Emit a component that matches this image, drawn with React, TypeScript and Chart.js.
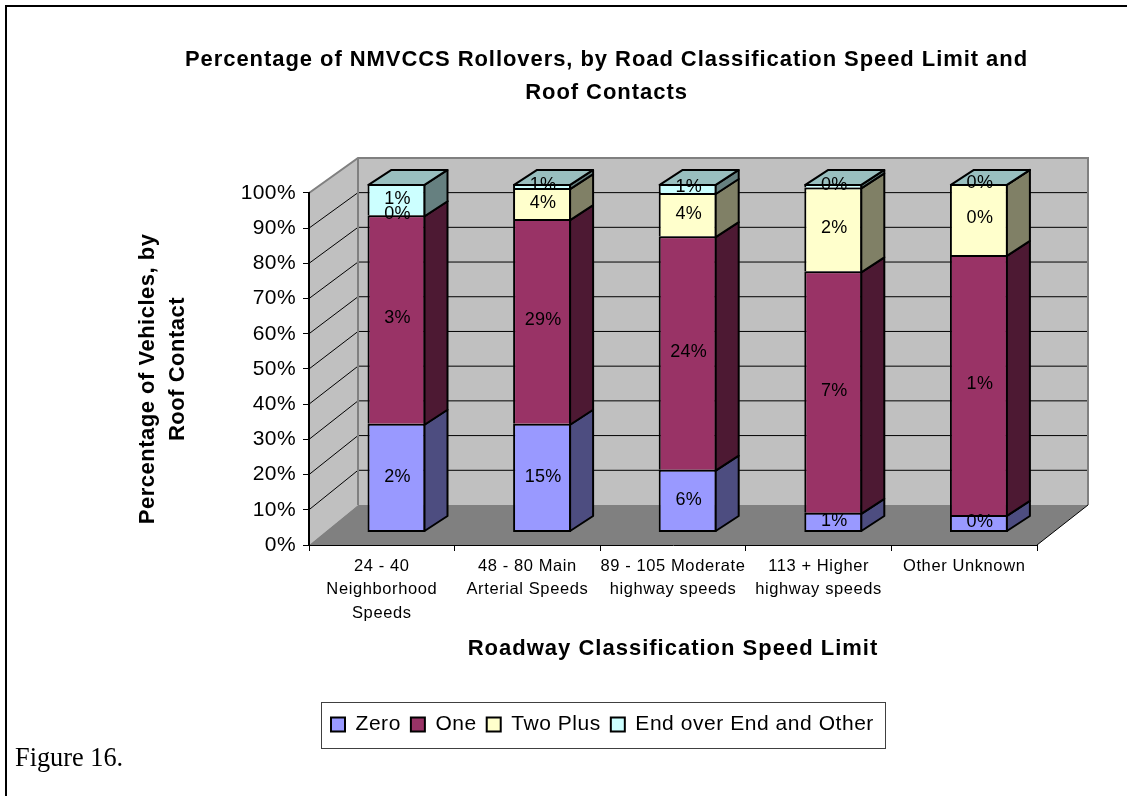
import React, { useEffect, useRef } from "react";
import { Chart, registerables } from "chart.js";

Chart.register(...registerables);

const categories = [
  ["24 - 40", "Neighborhood", "Speeds"],
  ["48 - 80 Main", "Arterial Speeds"],
  ["89 - 105 Moderate", "highway speeds"],
  ["113 + Higher", "highway speeds"],
  ["Other Unknown"],
];
const seriesNames = ["Zero", "One", "Two Plus", "End over End and Other"];
const zeroShare = [31.1, 31.1, 17.9, 5.5, 4.9];
const oneShare = [59.9, 58.8, 67.1, 69.4, 74.7];
const twoPlusShare = [0, 8.9, 12.4, 24.1, 20.4];
const endOverShare = [9, 1.2, 2.6, 1, 0];
const zeroLabels = ["2%", "15%", "6%", "1%", "0%"];
const oneLabels = ["3%", "29%", "24%", "7%", "1%"];
const twoPlusLabels = ["0%", "4%", "4%", "2%", "0%"];
const endOverLabels = ["1%", "1%", "1%", "0%", "0%"];

const W = 1127;
const H = 796;
const FONT = '"Liberation Sans", Arial, sans-serif';
const fronts = ["#9999FF", "#993366", "#FFFFCC", "#CCFFFF"];
const sides = ["#4D4D80", "#4D1933", "#808066", "#668080"];
const TOP_FACE = "#99BFBF";
const labelSets = [zeroLabels, oneLabels, twoPlusLabels, endOverLabels];

const BAR_SHIFT = 14.7;
const BAR_DX = 23;
const BAR_DY = -15;
const WALL_DX = 49;

const poly = (ctx: CanvasRenderingContext2D, pts: number[][], fill?: string, stroke?: string, lw = 1) => {
  ctx.beginPath();
  pts.forEach((p, i) => (i ? ctx.lineTo(p[0], p[1]) : ctx.moveTo(p[0], p[1])));
  ctx.closePath();
  if (fill) {
    ctx.fillStyle = fill;
    ctx.fill();
  }
  if (stroke) {
    ctx.strokeStyle = stroke;
    ctx.lineWidth = lw;
    ctx.lineJoin = "round";
    ctx.stroke();
  }
};

// Runs one of the library's text-drawing methods with a canvas letter spacing.
const spaced = (obj: any, method: string, px: number) => {
  const flag = `__spaced_${method}`;
  if (obj[flag]) return;
  obj[flag] = true;
  const orig = obj[method];
  obj[method] = function (...args: any[]) {
    const ctx = this.ctx;
    const prev = ctx.letterSpacing;
    ctx.letterSpacing = `${px}px`;
    const r = orig.apply(this, args);
    ctx.letterSpacing = prev;
    return r;
  };
};

const wallsPlugin = {
  id: "walls",
  beforeLayout(chart: any) {
    spaced(chart.legend, "fit", 0.55);
    spaced(chart.legend, "draw", 0.55);
    spaced(chart.titleBlock, "draw", 0.95);
  },
  afterLayout(chart: any) {
    const t = chart.titleBlock;
    t.left = 185;
    t.right = 1028;
    const l = chart.legend;
    const w = l.width;
    l.left = 321;
    l.right = 321 + w;
    l.top = 704;
    l.bottom = l.top + l.height;
    spaced(chart.scales.x, "drawLabels", 0.6);
    spaced(chart.scales.x, "drawTitle", 1);
    spaced(chart.scales.y, "drawTitle", 0.5);
    spaced(chart.scales.y, "drawLabels", 0.4);
  },
  beforeDraw(chart: any) {
    const ctx: CanvasRenderingContext2D = chart.ctx;
    const { x, y, yBack } = chart.scales;
    const x0 = x.left;
    const x1 = x.right;
    const front0 = y.getPixelForValue(0);
    const front100 = y.getPixelForValue(100);
    const back0 = yBack.getPixelForValue(0);
    const back100 = yBack.getPixelForValue(100);
    ctx.save();
    ctx.fillStyle = "#FFFFFF";
    ctx.fillRect(0, 0, W, H);
    // page frame
    ctx.strokeStyle = "#000000";
    ctx.lineWidth = 2;
    ctx.beginPath();
    ctx.moveTo(6, H);
    ctx.lineTo(6, 6);
    ctx.lineTo(W, 6);
    ctx.stroke();
    // walls
    poly(ctx, [[x0, front100], [x0 + WALL_DX, back100], [x0 + WALL_DX, back0], [x0, front0]], "#C0C0C0");
    poly(ctx, [[x0 + WALL_DX, back100], [x1 + WALL_DX + 2, back100], [x1 + WALL_DX + 2, back0], [x0 + WALL_DX, back0]], "#C0C0C0");
    poly(ctx, [[x0, front0], [x0 + WALL_DX, back0], [x1 + WALL_DX + 2, back0], [x1, front0]], "#808080");
    // grid
    ctx.strokeStyle = "#000000";
    ctx.lineWidth = 1;
    for (let v = 10; v <= 90; v += 10) {
      const fy = y.getPixelForValue(v);
      const by = yBack.getPixelForValue(v);
      ctx.beginPath();
      ctx.moveTo(x0, fy);
      ctx.lineTo(x0 + WALL_DX, by);
      ctx.lineTo(x1 + WALL_DX + 2, by);
      ctx.stroke();
    }
    // wall outlines
    ctx.strokeStyle = "#808080";
    ctx.lineWidth = 2;
    ctx.beginPath();
    ctx.moveTo(x0, front100);
    ctx.lineTo(x0 + WALL_DX, back100);
    ctx.lineTo(x1 + WALL_DX + 2, back100);
    ctx.lineTo(x1 + WALL_DX + 2, back0);
    ctx.moveTo(x0 + WALL_DX, back100);
    ctx.lineTo(x0 + WALL_DX, back0);
    ctx.stroke();
    ctx.strokeStyle = "#000000";
    ctx.lineWidth = 1;
    ctx.beginPath();
    ctx.moveTo(x1, front0);
    ctx.lineTo(x1 + WALL_DX + 2, back0);
    ctx.stroke();
    // legend frame
    ctx.strokeStyle = "#404040";
    ctx.lineWidth = 1;
    ctx.strokeRect(321.5, 702.5, 564, 46);
    // caption
    ctx.fillStyle = "#000000";
    ctx.font = '26.3px "Liberation Serif", serif';
    ctx.textAlign = "left";
    ctx.textBaseline = "alphabetic";
    ctx.fillText("Figure 16.", 15, 766);
    ctx.restore();
  },
  beforeDatasetsDraw(chart: any) {
    chart.ctx.save();
    chart.ctx.translate(BAR_SHIFT, 0);
  },
  afterDatasetsDraw(chart: any) {
    const ctx: CanvasRenderingContext2D = chart.ctx;
    const n = chart.data.datasets.length;
    for (let d = 0; d < n; d++) {
      const els = chart.getDatasetMeta(d).data;
      els.forEach((el: any) => {
        const right = el.x + el.width / 2 - 1;
        const top = el.y + 1;
        const bottom = d === 0 ? el.base - 1 : el.base + 1;
        poly(
          ctx,
          [[right, bottom], [right + BAR_DX, bottom + BAR_DY], [right + BAR_DX, top + BAR_DY], [right, top]],
          sides[d],
          "#000000",
          2
        );
      });
    }
    chart.getDatasetMeta(n - 1).data.forEach((el: any) => {
      const l = el.x - el.width / 2 + 1;
      const r = el.x + el.width / 2 - 1;
      const top = el.y + 1;
      poly(ctx, [[l, top], [r, top], [r + BAR_DX, top + BAR_DY], [l + BAR_DX, top + BAR_DY]], TOP_FACE, "#000000", 2);
    });
    // value labels
    ctx.fillStyle = "#000000";
    ctx.font = `18px ${FONT}`;
    (ctx as any).letterSpacing = "0.3px";
    ctx.textAlign = "center";
    ctx.textBaseline = "middle";
    for (let d = 0; d < n; d++) {
      chart.getDatasetMeta(d).data.forEach((el: any, i: number) => {
        ctx.fillText(labelSets[d][i], el.x + 1, (el.y + el.base) / 2 - 1);
      });
    }
    (ctx as any).letterSpacing = "0px";
    ctx.restore();
  },
};

export default function App() {
  const ref = useRef<HTMLCanvasElement>(null);
  useEffect(() => {
    document.body.style.margin = "0";
    const series = [zeroShare, oneShare, twoPlusShare, endOverShare];
    const chart = new Chart(ref.current!, {
      type: "bar",
      data: {
        labels: categories,
        datasets: series.map((s, i) => ({
          label: seriesNames[i],
          data: s,
          backgroundColor: fronts[i],
          borderColor: "#000000",
          borderWidth: 2,
          borderSkipped: i === 0 ? false : "bottom",
          xAxisID: "x",
          yAxisID: "yBar",
          categoryPercentage: 1,
          barPercentage: 0.3984,
          clip: false,
        })),
      } as any,
      plugins: [wallsPlugin],
      options: {
        responsive: false,
        animation: false,
        layout: { padding: { left: 133, right: 90, top: 0, bottom: 0 } },
        plugins: {
          tooltip: { enabled: false },
          title: {
            display: true,
            text: [
              "Percentage of NMVCCS Rollovers, by Road Classification Speed Limit and",
              "Roof Contacts",
            ],
            color: "#000000",
            font: { family: FONT, size: 22, weight: "bold", lineHeight: 1.51 },
            padding: { top: 43, bottom: 83.5 },
          },
          legend: {
            display: true,
            position: "bottom",
            align: "start",
            labels: {
              color: "#000000",
              boxWidth: 14,
              boxHeight: 14,
              padding: 10,
              font: { family: FONT, size: 21 },
            },
          },
        },
        scales: {
          x: {
            stacked: true,
            offset: true,
            afterFit(scale: any) {
              scale.height = H - 545 - scale.chart.legend.height;
            },
            grid: {
              drawOnChartArea: false,
              offset: true,
              color: "#000000",
              tickLength: 6,
              tickColor: "#000000",
            },
            border: { color: "#000000", width: 1 },
            ticks: {
              color: "#000000",
              maxRotation: 0,
              autoSkip: false,
              padding: 3,
              font: { family: FONT, size: 16.5, lineHeight: 1.45 },
            },
            title: {
              display: true,
              text: "Roadway Classification Speed Limit",
              color: "#000000",
              font: { family: FONT, size: 22, weight: "bold" },
              padding: { top: 24, bottom: 93 },
            },
          },
          y: {
            position: "left",
            min: 0,
            max: 100,
            afterFit(scale: any) {
              scale.width = 309 - 133;
            },
            ticks: {
              stepSize: 10,
              color: "#000000",
              padding: 7,
              font: { family: FONT, size: 21 },
              callback: (v: any) => `${v}%`,
            },
            grid: {
              drawOnChartArea: false,
              color: "#000000",
              tickLength: 6,
              tickColor: "#000000",
            },
            border: { color: "#000000", width: 2 },
            title: {
              display: true,
              text: ["Percentage of Vehicles, by   ", "Roof Contact"],
              color: "#000000",
              font: { family: FONT, size: 22, weight: "bold", lineHeight: 1.36 },
              padding: { top: 0, bottom: 0 },
            },
          },
          yBar: { display: false, stacked: true, min: -3.736, max: 97.41 },
          yBack: { display: false, min: -11.527, max: 89.91 },
        },
      } as any,
    });
    return () => chart.destroy();
  }, []);
  return <canvas ref={ref} width={W} height={H} style={{ display: "block" }} />;
}
